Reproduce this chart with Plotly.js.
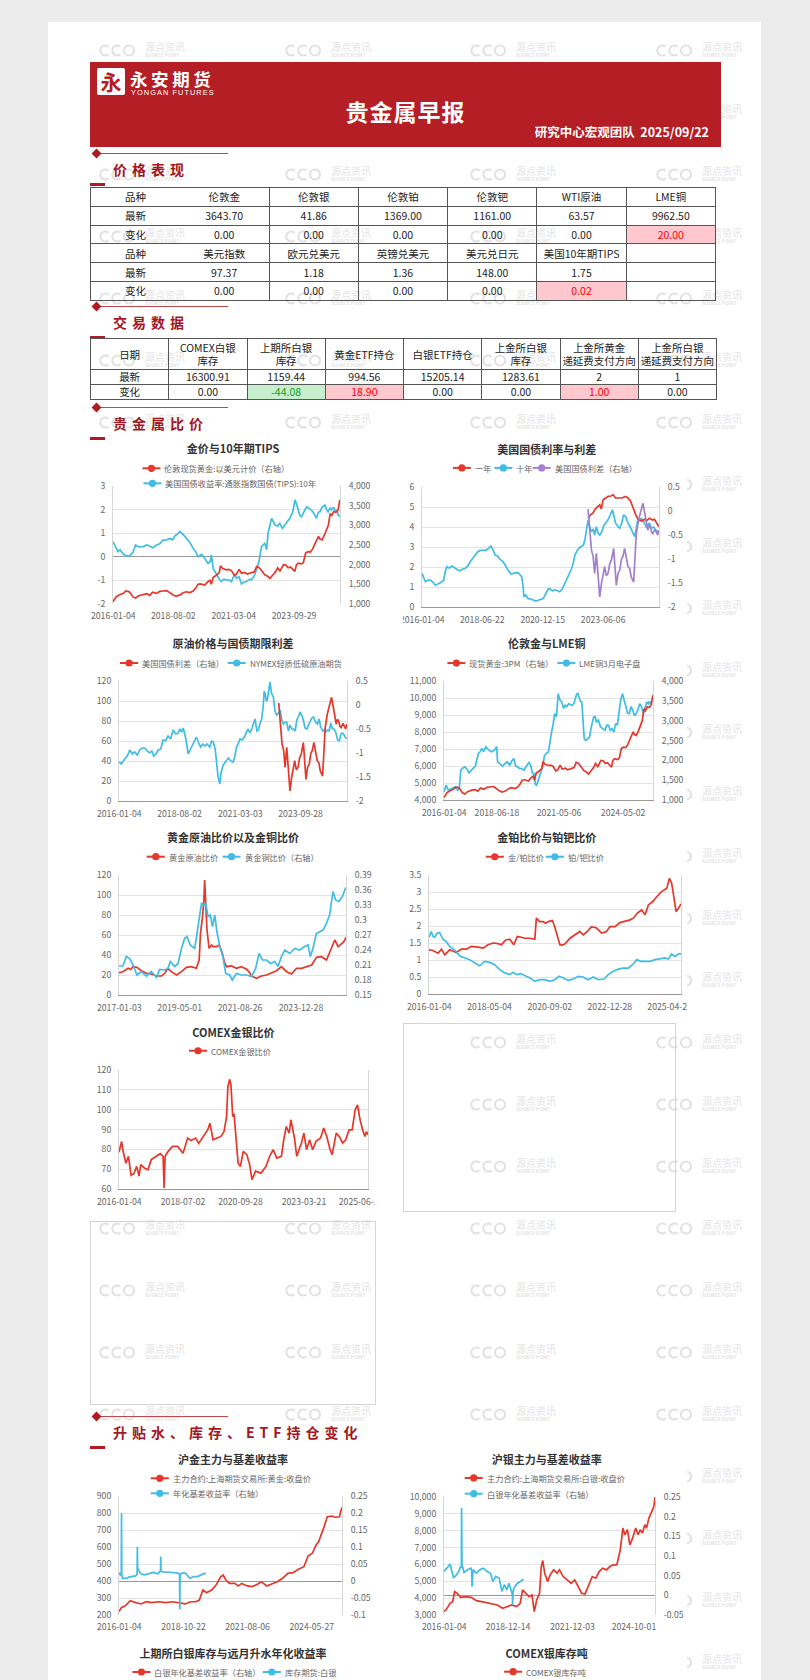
<!DOCTYPE html>
<html><head><meta charset="utf-8">
<script src="https://cdn.plot.ly/plotly-3.0.1.min.js"></script>
<style>
html,body{margin:0;padding:0;width:810px;height:1680px;overflow:hidden;background:#ececec;}
body{position:relative;font-family:"Noto Sans CJK SC","Noto Sans",sans-serif;}
#panel{position:absolute;left:48px;top:22px;width:713px;height:1700px;background:#fff;}
.wm{position:absolute;width:100px;height:16px;}
.wm svg{position:absolute;left:0;top:0;}
.wm .cn{position:absolute;left:47px;top:-3px;font-size:10px;line-height:12px;color:#e4e4e4;white-space:nowrap;}
.wm .en{position:absolute;left:47px;top:8px;font-size:4.6px;line-height:6px;color:#e4e4e4;white-space:nowrap;font-weight:bold;}
#hdr{position:absolute;left:90px;top:62px;width:631px;height:85px;background:#b41e24;color:#fff;}
#logo{position:absolute;left:7px;top:6px;width:28px;height:27px;background:#fff;border-radius:2px;color:#b41e24;font-size:21px;font-weight:bold;line-height:27px;text-align:center;}
#lname{position:absolute;left:40px;top:7px;font-size:17.5px;font-weight:bold;letter-spacing:3.6px;line-height:20px;white-space:nowrap;}
#lname2{position:absolute;left:41px;top:27px;font-size:7.4px;letter-spacing:1.05px;line-height:8px;white-space:nowrap;font-family:"Liberation Sans",Arial,sans-serif;}
#htitle{position:absolute;left:0;width:631px;top:36px;text-align:center;font-size:23px;font-weight:bold;letter-spacing:1px;line-height:26px;}
#hdate{position:absolute;right:12px;top:63px;font-size:12.5px;font-weight:bold;line-height:14px;white-space:nowrap;}
.dia{position:absolute;width:7px;height:7px;background:#b01b22;transform:rotate(45deg);}
.sline{position:absolute;height:1px;background:#c2454a;}
.stext{position:absolute;font-size:14px;font-weight:bold;color:#a3161e;letter-spacing:5px;line-height:16px;white-space:nowrap;}
.sdash{position:absolute;width:15px;height:3px;background:#b01b22;}
table{border-collapse:collapse;position:absolute;table-layout:fixed;font-size:10.5px;color:#222;}
td{border:1px solid #555;text-align:center;padding:0;line-height:13px;}
td.up{background:#ffc7ce;color:#ff0000;}
td.dn{background:#c6efce;color:#11a02a;}
#t1 td.c0{border-right:none;} #t1 td.c1{border-left:none;}
.chart{position:absolute;background:#fff;overflow:hidden;}
.ebox{position:absolute;border:1px solid #d4d4d4;box-sizing:border-box;}
</style></head>
<body>
<div id="panel"></div>
<div id="wm"></div>
<div id="hdr">
  <div id="logo">永</div>
  <div id="lname">永安期货</div>
  <div id="lname2">YONGAN FUTURES</div>
  <div id="htitle">贵金属早报</div>
  <div id="hdate">研究中心宏观团队&nbsp;&nbsp;2025/09/22</div>
</div>
<div id="secs"></div>
<table id="t1" style="left:90px;top:187px;width:626px;"></table>
<table id="t2" style="left:90px;top:338px;width:627px;"></table>
<div class="chart" id="c1"></div><div class="chart" id="c2"></div>
<div class="chart" id="c3"></div><div class="chart" id="c4"></div>
<div class="chart" id="c5"></div><div class="chart" id="c6"></div>
<div class="chart" id="c7"></div>
<div class="ebox" style="left:403px;top:1023px;width:273px;height:189px;"></div>
<div class="ebox" style="left:90px;top:1221px;width:286px;height:184px;"></div>
<div class="chart" id="c11"></div><div class="chart" id="c12"></div>
<div class="chart" id="c13"></div><div class="chart" id="c14"></div>
<script>
// ---------------- table data ----------------
const priceNames1 = ['伦敦金','伦敦银','伦敦铂','伦敦钯','WTI原油','LME铜'];
const priceLatest1 = ['3643.70','41.86','1369.00','1161.00','63.57','9962.50'];
const priceChange1 = ['0.00','0.00','0.00','0.00','0.00','20.00'];
const priceNames2 = ['美元指数','欧元兑美元','英镑兑美元','美元兑日元','美国10年期TIPS',''];
const priceLatest2 = ['97.37','1.18','1.36','148.00','1.75',''];
const priceChange2 = ['0.00','0.00','0.00','0.00','0.02',''];
const tradeNames = ['COMEX白银<br>库存','上期所白银<br>库存','黄金ETF持仓','白银ETF持仓','上金所白银<br>库存','上金所黄金<br>递延费支付方向','上金所白银<br>递延费支付方向'];
const tradeLatest = ['16300.91','1159.44','994.56','15205.14','1283.61','2','1'];
const tradeChange = ['0.00','-44.08','18.90','0.00','0.00','1.00','0.00'];

// ---------------- chart data: [decimal year, value] ----------------
const tipsData = [[2016.0,0.64],[2016.1,0.45],[2016.21,0.22],[2016.3,0.3],[2016.43,0.12],[2016.55,0.05],[2016.71,0.03],[2016.86,0.2],[2016.97,0.5],[2017.1,0.42],[2017.29,0.43],[2017.45,0.5],[2017.57,0.46],[2017.7,0.38],[2017.86,0.5],[2018.0,0.55],[2018.14,0.71],[2018.3,0.72],[2018.43,0.78],[2018.55,0.72],[2018.64,0.88],[2018.78,0.98],[2018.86,1.07],[2019.0,0.95],[2019.14,0.78],[2019.3,0.6],[2019.43,0.36],[2019.55,0.2],[2019.64,0.0],[2019.8,0.1],[2019.93,-0.07],[2020.07,-0.28],[2020.17,-0.2],[2020.21,0.08],[2020.29,-0.49],[2020.43,-0.77],[2020.55,-0.95],[2020.64,-1.05],[2020.75,-0.95],[2020.86,-0.98],[2021.0,-1.0],[2021.07,-1.05],[2021.2,-0.75],[2021.29,-0.91],[2021.4,-0.85],[2021.5,-1.15],[2021.6,-1.08],[2021.71,-1.05],[2021.85,-0.95],[2021.93,-0.98],[2022.05,-0.8],[2022.14,-0.56],[2022.25,-0.2],[2022.36,0.43],[2022.5,0.57],[2022.58,0.3],[2022.64,1.0],[2022.79,1.63],[2022.93,1.35],[2023.05,1.3],[2023.14,1.42],[2023.25,1.2],[2023.36,1.35],[2023.5,1.5],[2023.57,1.63],[2023.7,1.9],[2023.79,2.41],[2023.87,2.2],[2023.93,1.98],[2024.0,1.75],[2024.07,1.7],[2024.2,1.95],[2024.29,2.12],[2024.4,2.05],[2024.5,1.98],[2024.6,1.85],[2024.71,1.63],[2024.8,1.9],[2024.86,1.91],[2024.95,2.1],[2025.07,2.19],[2025.15,2.0],[2025.21,1.91],[2025.3,2.08],[2025.36,1.98],[2025.45,2.1],[2025.5,1.98],[2025.6,1.95],[2025.64,1.77],[2025.71,1.72]];
const goldData = [[2016.0,1060],[2016.07,1120],[2016.14,1186],[2016.3,1240],[2016.45,1270],[2016.55,1330],[2016.7,1310],[2016.86,1180],[2016.97,1150],[2017.1,1210],[2017.3,1250],[2017.45,1260],[2017.57,1220],[2017.7,1300],[2017.86,1270],[2018.0,1320],[2018.14,1330],[2018.3,1340],[2018.43,1290],[2018.57,1230],[2018.7,1200],[2018.86,1225],[2019.0,1285],[2019.14,1310],[2019.3,1290],[2019.43,1330],[2019.55,1410],[2019.64,1500],[2019.75,1510],[2019.93,1480],[2020.05,1560],[2020.15,1600],[2020.21,1500],[2020.29,1680],[2020.43,1730],[2020.55,1800],[2020.6,1970],[2020.7,1900],[2020.86,1870],[2020.95,1880],[2021.07,1850],[2021.2,1730],[2021.29,1760],[2021.4,1880],[2021.5,1780],[2021.65,1800],[2021.75,1760],[2021.93,1800],[2022.05,1820],[2022.15,1950],[2022.25,1930],[2022.36,1850],[2022.5,1740],[2022.64,1700],[2022.72,1650],[2022.86,1750],[2022.95,1810],[2023.05,1920],[2023.15,1840],[2023.3,2000],[2023.4,1990],[2023.5,1920],[2023.6,1940],[2023.72,1870],[2023.79,1830],[2023.85,1990],[2023.93,2040],[2024.07,2020],[2024.15,2050],[2024.25,2300],[2024.35,2330],[2024.45,2320],[2024.55,2400],[2024.7,2600],[2024.8,2720],[2024.86,2650],[2024.95,2630],[2025.07,2780],[2025.15,2900],[2025.22,3000],[2025.3,3300],[2025.37,3250],[2025.45,3350],[2025.55,3330],[2025.64,3400],[2025.68,3550],[2025.71,3644]];
const ust10Data = [[2016.0,1.68],[2016.07,1.45],[2016.14,1.26],[2016.25,1.35],[2016.34,1.34],[2016.45,1.25],[2016.54,1.09],[2016.65,1.15],[2016.75,1.21],[2016.89,1.34],[2016.95,1.75],[2017.02,2.01],[2017.12,1.95],[2017.23,2.05],[2017.36,1.93],[2017.47,1.85],[2017.57,1.81],[2017.67,1.9],[2017.77,1.93],[2017.88,2.05],[2017.98,2.27],[2018.08,2.45],[2018.18,2.6],[2018.28,2.75],[2018.38,2.82],[2018.48,2.85],[2018.59,2.82],[2018.7,2.9],[2018.82,3.05],[2018.9,2.9],[2019.0,2.6],[2019.1,2.55],[2019.2,2.38],[2019.3,2.3],[2019.41,2.1],[2019.54,1.81],[2019.65,1.65],[2019.75,1.68],[2019.85,1.72],[2019.95,1.71],[2020.09,1.51],[2020.15,1.0],[2020.18,0.51],[2020.25,0.6],[2020.36,0.42],[2020.46,0.4],[2020.56,0.34],[2020.67,0.3],[2020.77,0.34],[2020.87,0.38],[2020.97,0.42],[2021.05,0.6],[2021.11,0.76],[2021.18,0.9],[2021.25,0.92],[2021.35,0.8],[2021.45,0.87],[2021.55,0.8],[2021.65,0.76],[2021.75,0.9],[2021.86,1.21],[2021.96,1.4],[2022.06,1.68],[2022.13,1.9],[2022.2,2.18],[2022.27,2.6],[2022.34,2.77],[2022.44,2.95],[2022.54,3.02],[2022.62,3.1],[2022.68,3.35],[2022.75,3.8],[2022.81,4.36],[2022.88,4.0],[2022.95,3.77],[2023.02,3.9],[2023.08,3.6],[2023.15,4.02],[2023.22,3.7],[2023.29,3.6],[2023.37,3.75],[2023.45,4.06],[2023.54,4.2],[2023.63,4.36],[2023.72,4.6],[2023.81,4.86],[2023.88,4.5],[2023.94,4.19],[2024.02,4.05],[2024.11,3.94],[2024.19,4.2],[2024.27,4.61],[2024.36,4.5],[2024.45,4.19],[2024.54,4.0],[2024.62,3.77],[2024.72,3.52],[2024.8,4.0],[2024.86,4.44],[2024.93,4.3],[2024.99,4.44],[2025.06,4.3],[2025.13,4.19],[2025.2,4.0],[2025.26,4.11],[2025.33,4.2],[2025.4,3.94],[2025.5,4.0],[2025.58,3.86],[2025.65,3.8],[2025.71,3.69]];
const ust1Data = [[2022.81,4.44],[2022.9,4.6],[2023.01,4.69],[2023.1,4.9],[2023.22,5.03],[2023.29,5.11],[2023.35,4.9],[2023.43,5.36],[2023.54,5.45],[2023.63,5.53],[2023.75,5.55],[2023.84,5.61],[2023.94,5.45],[2024.0,5.45],[2024.08,5.48],[2024.2,5.45],[2024.35,5.53],[2024.45,5.45],[2024.55,5.3],[2024.63,5.03],[2024.77,4.61],[2024.85,4.4],[2024.9,4.36],[2025.0,4.3],[2025.13,4.39],[2025.2,4.3],[2025.33,4.44],[2025.45,4.35],[2025.53,4.39],[2025.63,4.19],[2025.71,4.02]];
const spreadData = [[2022.81,0.04],[2022.88,-0.47],[2022.95,-0.81],[2023.02,-0.95],[2023.08,-1.3],[2023.15,-0.88],[2023.22,-1.44],[2023.29,-1.79],[2023.36,-1.51],[2023.42,-1.3],[2023.49,-1.16],[2023.56,-1.35],[2023.63,-1.3],[2023.7,-1.1],[2023.77,-1.02],[2023.86,-0.78],[2023.92,-1.2],[2023.97,-1.55],[2024.04,-1.3],[2024.11,-1.23],[2024.18,-1.0],[2024.24,-0.95],[2024.31,-0.78],[2024.38,-1.0],[2024.45,-1.16],[2024.52,-1.2],[2024.58,-1.37],[2024.68,-1.48],[2024.73,-1.0],[2024.79,-0.47],[2024.88,-0.19],[2024.94,-0.05],[2024.99,0.02],[2025.06,0.16],[2025.12,0.0],[2025.17,-0.12],[2025.26,-0.4],[2025.31,-0.3],[2025.36,-0.33],[2025.42,-0.45],[2025.47,-0.47],[2025.55,-0.38],[2025.6,-0.43],[2025.66,-0.5],[2025.71,-0.4]];
const wtiData = [[2016.0,39],[2016.1,37],[2016.24,42],[2016.35,45],[2016.46,51],[2016.57,47],[2016.67,49],[2016.78,46],[2016.88,51],[2016.98,53],[2017.1,53],[2017.2,50],[2017.31,48],[2017.4,50],[2017.48,45],[2017.58,47],[2017.67,51],[2017.78,52],[2017.88,61],[2017.98,60],[2018.09,65],[2018.2,62],[2018.31,71],[2018.42,67],[2018.52,68],[2018.6,72],[2018.67,69],[2018.74,73],[2018.85,62],[2018.95,47],[2019.05,52],[2019.13,56],[2019.22,60],[2019.3,64],[2019.4,58],[2019.48,54],[2019.57,57],[2019.66,55],[2019.75,57],[2019.87,54],[2019.95,60],[2020.02,59],[2020.1,52],[2020.16,41],[2020.22,25],[2020.3,17],[2020.35,28],[2020.44,36],[2020.55,40],[2020.66,43],[2020.77,40],[2020.87,39],[2020.94,45],[2021.01,54],[2021.1,58],[2021.16,62],[2021.25,61],[2021.37,65],[2021.45,70],[2021.51,72],[2021.58,68],[2021.66,72],[2021.74,78],[2021.8,82],[2021.88,70],[2021.94,71],[2022.02,78],[2022.08,82],[2022.15,95],[2022.19,110],[2022.23,107],[2022.28,100],[2022.32,101],[2022.38,110],[2022.44,119],[2022.5,108],[2022.58,104],[2022.65,90],[2022.72,86],[2022.8,88],[2022.87,91],[2022.95,80],[2023.01,77],[2023.08,79],[2023.15,79],[2023.22,70],[2023.29,76],[2023.36,72],[2023.44,72],[2023.51,70],[2023.58,81],[2023.66,85],[2023.72,89],[2023.79,86],[2023.86,81],[2023.93,73],[2024.01,72],[2024.08,76],[2024.15,79],[2024.22,83],[2024.29,84],[2024.38,79],[2024.46,77],[2024.53,82],[2024.6,74],[2024.68,70],[2024.75,71],[2024.82,69],[2024.89,71],[2024.96,70],[2025.03,78],[2025.1,72],[2025.17,72],[2025.25,68],[2025.32,61],[2025.39,60],[2025.46,67],[2025.53,68],[2025.6,66],[2025.66,63],[2025.72,63]];
const copperData = [[2016.0,4483],[2016.1,4875],[2016.2,4580],[2016.37,4680],[2016.51,4777],[2016.64,4580],[2016.71,4700],[2016.78,5755],[2016.85,5853],[2016.98,5950],[2017.08,5800],[2017.16,5600],[2017.33,5795],[2017.46,6000],[2017.53,6400],[2017.6,6735],[2017.68,6833],[2017.76,7030],[2017.85,6850],[2017.94,7127],[2018.08,6930],[2018.21,6833],[2018.35,6930],[2018.45,7150],[2018.49,6245],[2018.6,6100],[2018.73,5990],[2018.85,6150],[2018.93,6245],[2019.06,6050],[2019.15,6300],[2019.25,6440],[2019.33,6000],[2019.42,5950],[2019.52,5850],[2019.62,5853],[2019.72,5750],[2019.86,6050],[2019.95,6200],[2020.02,6050],[2020.12,5560],[2020.19,5560],[2020.25,4900],[2020.31,4875],[2020.43,5364],[2020.52,5800],[2020.59,5950],[2020.67,6600],[2020.75,6735],[2020.86,6833],[2020.92,7400],[2020.99,7908],[2021.08,8500],[2021.15,9082],[2021.23,8900],[2021.31,10256],[2021.38,9900],[2021.48,9767],[2021.56,9400],[2021.64,9571],[2021.72,9500],[2021.8,9669],[2021.88,9600],[2021.96,9571],[2022.05,9700],[2022.15,10159],[2022.22,10300],[2022.28,10061],[2022.35,9800],[2022.41,9767],[2022.47,8800],[2022.52,7614],[2022.6,7500],[2022.69,7614],[2022.77,7700],[2022.85,8299],[2022.96,8886],[2023.03,8900],[2023.09,8593],[2023.18,8700],[2023.28,8299],[2023.38,8200],[2023.49,8104],[2023.57,8400],[2023.65,8397],[2023.73,8100],[2023.81,8201],[2023.9,8000],[2023.98,8495],[2024.06,8400],[2024.14,9278],[2024.22,9900],[2024.3,10256],[2024.38,9900],[2024.46,9474],[2024.54,9100],[2024.62,9082],[2024.7,9500],[2024.78,9278],[2024.86,8950],[2024.94,9082],[2025.02,9300],[2025.1,9669],[2025.18,9500],[2025.27,9082],[2025.35,9500],[2025.43,9767],[2025.5,9650],[2025.54,9767],[2025.6,9700],[2025.67,9865]];
const goldOilData = [[2017.0,22.3],[2017.15,23.3],[2017.25,25],[2017.35,26.7],[2017.45,25.5],[2017.54,28.3],[2017.69,27.7],[2017.86,24.3],[2018.05,21.7],[2018.24,21],[2018.44,19],[2018.63,19],[2018.76,21.7],[2018.88,26.7],[2019.01,23.3],[2019.21,20],[2019.4,23.3],[2019.59,27.7],[2019.78,28.3],[2019.97,26.7],[2020.08,35],[2020.13,61.7],[2020.21,78.3],[2020.26,95],[2020.29,115],[2020.33,91.7],[2020.38,65],[2020.46,46.7],[2020.55,50],[2020.62,48.3],[2020.74,48.3],[2020.85,50],[2020.97,41.7],[2021.05,33],[2021.13,28.3],[2021.32,29],[2021.51,26.7],[2021.7,28.3],[2021.9,25.7],[2022.0,23],[2022.09,19],[2022.28,16.7],[2022.47,19],[2022.67,20],[2022.86,22.3],[2023.05,24.3],[2023.24,28.3],[2023.44,23.3],[2023.63,21],[2023.82,26.7],[2024.01,26.7],[2024.21,28.3],[2024.4,30],[2024.59,37.7],[2024.78,38.3],[2024.97,35],[2025.12,45],[2025.29,55],[2025.42,48.3],[2025.55,51.7],[2025.64,53.3],[2025.72,57.7]];
const goldCopperData = [[2017.0,0.208],[2017.15,0.208],[2017.28,0.227],[2017.41,0.223],[2017.54,0.21],[2017.69,0.19],[2017.86,0.197],[2018.05,0.188],[2018.24,0.197],[2018.44,0.185],[2018.56,0.201],[2018.76,0.2],[2018.88,0.203],[2018.97,0.217],[2019.14,0.207],[2019.27,0.213],[2019.4,0.243],[2019.52,0.263],[2019.61,0.267],[2019.74,0.25],[2019.91,0.243],[2020.0,0.273],[2020.08,0.307],[2020.17,0.333],[2020.26,0.33],[2020.33,0.333],[2020.42,0.307],[2020.51,0.31],[2020.59,0.287],[2020.68,0.31],[2020.76,0.277],[2020.87,0.247],[2020.99,0.227],[2021.1,0.193],[2021.25,0.19],[2021.35,0.18],[2021.51,0.193],[2021.7,0.19],[2021.9,0.19],[2022.09,0.187],[2022.25,0.203],[2022.38,0.233],[2022.51,0.22],[2022.67,0.22],[2022.82,0.213],[2022.98,0.217],[2023.11,0.207],[2023.24,0.227],[2023.37,0.24],[2023.56,0.233],[2023.75,0.243],[2023.94,0.24],[2024.13,0.247],[2024.26,0.25],[2024.35,0.227],[2024.45,0.243],[2024.58,0.273],[2024.71,0.277],[2024.84,0.28],[2024.97,0.293],[2025.09,0.31],[2025.22,0.357],[2025.32,0.34],[2025.45,0.337],[2025.58,0.347],[2025.71,0.365]];
const goldPtData = [[2016.0,1.3],[2016.15,1.28],[2016.35,1.2],[2016.48,1.32],[2016.61,1.15],[2016.8,1.3],[2017.06,1.22],[2017.25,1.32],[2017.45,1.32],[2017.64,1.4],[2017.9,1.38],[2018.09,1.35],[2018.28,1.45],[2018.48,1.5],[2018.67,1.48],[2018.8,1.45],[2018.97,1.59],[2019.12,1.61],[2019.28,1.45],[2019.41,1.69],[2019.57,1.67],[2019.7,1.64],[2019.9,1.64],[2020.09,1.61],[2020.15,2.23],[2020.28,2.13],[2020.41,2.13],[2020.5,2.08],[2020.61,2.13],[2020.77,2.16],[2020.85,2.0],[2020.93,1.79],[2021.06,1.45],[2021.15,1.44],[2021.25,1.47],[2021.45,1.64],[2021.64,1.74],[2021.83,1.84],[2021.96,1.74],[2022.12,1.84],[2022.28,1.98],[2022.48,1.94],[2022.67,1.79],[2022.86,1.84],[2022.99,1.98],[2023.19,1.98],[2023.38,2.1],[2023.57,2.13],[2023.77,2.18],[2023.9,2.23],[2024.05,2.38],[2024.22,2.47],[2024.35,2.33],[2024.48,2.62],[2024.65,2.72],[2024.8,2.86],[2024.99,3.01],[2025.19,3.11],[2025.29,3.4],[2025.38,3.26],[2025.47,2.77],[2025.55,2.42],[2025.64,2.52],[2025.74,2.65]];
const ptPdData = [[2016.0,1.67],[2016.09,1.84],[2016.15,1.7],[2016.22,1.67],[2016.3,1.78],[2016.41,1.81],[2016.54,1.61],[2016.67,1.54],[2016.8,1.4],[2016.99,1.3],[2017.19,1.12],[2017.38,1.06],[2017.57,1.01],[2017.77,0.91],[2017.96,0.83],[2018.15,0.96],[2018.35,0.93],[2018.54,0.86],[2018.74,0.71],[2018.93,0.62],[2019.12,0.57],[2019.25,0.64],[2019.38,0.57],[2019.54,0.6],[2019.7,0.54],[2019.9,0.47],[2020.09,0.37],[2020.28,0.42],[2020.48,0.42],[2020.67,0.37],[2020.86,0.42],[2021.03,0.52],[2021.19,0.47],[2021.38,0.4],[2021.57,0.44],[2021.77,0.52],[2021.96,0.5],[2022.15,0.42],[2022.35,0.5],[2022.54,0.42],[2022.76,0.44],[2022.93,0.57],[2023.12,0.67],[2023.32,0.73],[2023.51,0.76],[2023.7,0.76],[2023.87,0.86],[2024.03,1.01],[2024.18,0.96],[2024.35,0.96],[2024.54,0.96],[2024.74,1.01],[2024.93,1.03],[2025.12,1.06],[2025.25,1.03],[2025.38,1.18],[2025.51,1.1],[2025.64,1.18],[2025.74,1.18]];
const auAgData = [[2016.0,78.5],[2016.1,84],[2016.16,79],[2016.27,73],[2016.37,76.5],[2016.47,67],[2016.58,67.7],[2016.69,71.4],[2016.78,66.5],[2016.85,72.3],[2016.99,70.6],[2017.13,69.7],[2017.26,74.8],[2017.47,76.5],[2017.61,77.8],[2017.72,76.5],[2017.76,60.5],[2017.8,76.5],[2017.92,79],[2018.09,81.5],[2018.29,81.5],[2018.5,78],[2018.68,85.7],[2018.81,84.5],[2018.99,85.7],[2019.11,83],[2019.3,86.5],[2019.46,89.8],[2019.55,93.2],[2019.67,84.8],[2019.83,85.7],[2019.98,86.5],[2020.1,89],[2020.2,96.5],[2020.25,111.6],[2020.32,115.3],[2020.37,112.5],[2020.44,96.5],[2020.49,98],[2020.57,83.2],[2020.65,73],[2020.74,71.4],[2020.85,79],[2020.99,77.3],[2021.1,72.3],[2021.19,64.7],[2021.33,69],[2021.54,68],[2021.74,71.4],[2021.88,76.5],[2022.02,79.8],[2022.16,75.6],[2022.34,76.5],[2022.43,84.8],[2022.53,91.5],[2022.64,88.2],[2022.71,94.9],[2022.85,85.7],[2022.94,76.5],[2023.12,83.2],[2023.22,88.2],[2023.32,79.8],[2023.44,84.8],[2023.56,79.8],[2023.69,84],[2023.87,85.7],[2023.99,90.7],[2024.11,86.5],[2024.24,79.8],[2024.32,77.3],[2024.48,88.2],[2024.6,86.5],[2024.73,83.2],[2024.85,84.8],[2024.98,89.8],[2025.1,89.8],[2025.22,99.9],[2025.31,102.4],[2025.41,94.9],[2025.51,89.8],[2025.6,86.5],[2025.66,89],[2025.72,87.3]];
const shGoldData = [[2016.0,220],[2016.11,245],[2016.26,253],[2016.49,284],[2016.73,273],[2016.96,265],[2017.19,278],[2017.42,273],[2017.73,278],[2018.04,273],[2018.35,278],[2018.65,269],[2018.89,265],[2019.12,278],[2019.35,278],[2019.5,288],[2019.66,347],[2019.81,331],[2020.04,347],[2020.23,376],[2020.43,425],[2020.54,435],[2020.66,406],[2020.81,386],[2021.05,386],[2021.2,371],[2021.35,386],[2021.59,371],[2021.82,367],[2022.05,382],[2022.2,396],[2022.44,371],[2022.67,382],[2022.9,396],[2023.13,416],[2023.36,445],[2023.59,449],[2023.82,469],[2024.06,484],[2024.24,547],[2024.43,563],[2024.59,612],[2024.7,631],[2024.8,665],[2024.94,720],[2025.08,778],[2025.18,782],[2025.29,782],[2025.4,775],[2025.51,775],[2025.61,778],[2025.66,808],[2025.72,833]];
const shGoldBasisData = [[2016.0,0.025],[2016.06,0.018],[2016.1,0.02],[2016.11,0.199],[2016.12,0.02],[2016.15,0.008],[2016.34,0.008],[2016.45,0.012],[2016.57,0.013],[2016.73,0.015],[2016.79,0.02],[2016.8,0.101],[2016.81,0.04],[2016.85,0.032],[2016.96,0.021],[2017.11,0.018],[2017.27,0.021],[2017.5,0.025],[2017.7,0.021],[2017.81,0.03],[2017.82,0.072],[2017.83,0.03],[2017.88,0.027],[2018.11,0.027],[2018.35,0.025],[2018.58,0.023],[2018.64,0.02],[2018.65,-0.083],[2018.66,0.015],[2018.72,0.023],[2018.89,0.023],[2019.0,0.015],[2019.09,0.008],[2019.27,0.013],[2019.43,0.013],[2019.58,0.018],[2019.73,0.023],[2019.78,0.02]];
const shSilverData = [[2016.0,3198],[2016.11,3337],[2016.28,3694],[2016.4,3793],[2016.49,4388],[2016.6,4290],[2016.76,4051],[2017.0,4091],[2017.25,4050],[2017.49,3853],[2017.73,3793],[2017.97,3734],[2018.22,3655],[2018.46,3595],[2018.7,3397],[2018.95,3496],[2019.11,3595],[2019.35,3496],[2019.51,3694],[2019.62,4487],[2019.75,4329],[2019.92,4091],[2020.05,4190],[2020.16,3198],[2020.27,3893],[2020.4,4290],[2020.48,5875],[2020.55,6232],[2020.64,5479],[2020.77,4983],[2020.89,5380],[2021.05,5677],[2021.21,5479],[2021.32,5677],[2021.49,5281],[2021.7,5083],[2021.86,4884],[2022.02,5083],[2022.18,4646],[2022.34,4290],[2022.5,4250],[2022.67,4785],[2022.83,5281],[2022.99,5182],[2023.15,5578],[2023.31,5776],[2023.48,5677],[2023.64,5875],[2023.8,5975],[2023.96,5975],[2024.12,6867],[2024.24,8156],[2024.33,7759],[2024.45,8057],[2024.56,7164],[2024.69,7561],[2024.83,8156],[2024.94,7759],[2025.04,8057],[2025.14,7858],[2025.25,8354],[2025.33,8156],[2025.44,8751],[2025.54,9048],[2025.62,9346],[2025.67,9445],[2025.72,10000]];
const shSilverBasisData = [[2016.0,0.061],[2016.11,0.067],[2016.19,0.073],[2016.28,0.08],[2016.36,0.065],[2016.44,0.044],[2016.57,0.052],[2016.68,0.061],[2016.76,0.073],[2016.8,0.07],[2016.81,0.222],[2016.83,0.07],[2016.86,0.073],[2016.92,0.058],[2017.08,0.065],[2017.25,0.069],[2017.28,0.06],[2017.29,0.022],[2017.31,0.06],[2017.34,0.065],[2017.49,0.056],[2017.65,0.065],[2017.81,0.069],[2017.97,0.061],[2018.14,0.056],[2018.25,0.035],[2018.38,0.048],[2018.54,0.044],[2018.67,0.01],[2018.78,0.027],[2018.9,0.014],[2018.99,0.031],[2019.11,0.01],[2019.15,0.0],[2019.16,-0.024],[2019.18,0.01],[2019.22,0.018],[2019.35,0.029],[2019.51,0.035],[2019.67,0.041]];

// ---------------- style constants ----------------
const RED='#e5372a', BLUE='#3ebde6', PURPLE='#a47fcc';
const FONT='"Noto Sans CJK SC","Noto Sans",sans-serif';

// ---------------- watermarks ----------------
(function(){
  const layer=document.getElementById('wm');
  const cols=[98,284,469,655];
  let h='';
  for(let k=0;k<27;k++){
    const y=50+62*k;
    cols.forEach(x=>{
      h+=`<div class="wm" style="left:${x}px;top:${y-6}px"><svg width="40" height="13" viewBox="0 0 40 13"><g fill="none" stroke="#e2e2e2" stroke-width="2.2"><path d="M10.5,2.6 A5,5 0 1 0 10.5,10.4"/><path d="M22.5,2.6 A5,5 0 1 0 22.5,10.4"/><circle cx="31" cy="6.5" r="5"/></g></svg><div class="cn">源点资讯</div><div class="en">SOURCE POINT</div></div>`;
    });
  }
  layer.innerHTML=h;
})();

// ---------------- section headers ----------------
(function(){
  const secs=[[153,'价格表现'],[306,'交易数据'],[407,'贵金属比价'],[1416,'升贴水、库存、ETF持仓变化']];
  let h='';
  secs.forEach(([y,t])=>{
    h+=`<div class="sline" style="left:96px;top:${y}px;width:132px"></div>`;
    h+=`<div class="dia" style="left:92.5px;top:${y-3}px"></div>`;
    h+=`<div class="stext" style="left:113px;top:${y+8}px">${t}</div>`;
    h+=`<div class="sdash" style="left:90px;top:${y+30}px"></div>`;
  });
  document.getElementById('secs').innerHTML=h;
})();

// ---------------- tables ----------------
(function(){
  const cls=(v)=>{ if(v==='')return ''; const n=parseFloat(v); return n>0?'up':(n<0?'dn':''); };
  const rows=[['品种',...priceNames1],['最新',...priceLatest1],['变化',...priceChange1],['品种',...priceNames2],['最新',...priceLatest2],['变化',...priceChange2]];
  let h='';
  rows.forEach((r,i)=>{
    h+='<tr style="height:18.8px">';
    r.forEach((v,j)=>{ const c=(i%3===2&&j>0)?cls(v):''; h+=`<td class="c${j} ${c}">${v}</td>`; });
    h+='</tr>';
  });
  document.getElementById('t1').innerHTML=h;
  let g='<tr style="height:31px"><td>日期</td>'+tradeNames.map(v=>`<td>${v}</td>`).join('')+'</tr>';
  g+='<tr style="height:14.8px"><td>最新</td>'+tradeLatest.map(v=>`<td>${v}</td>`).join('')+'</tr>';
  g+='<tr style="height:14.8px"><td>变化</td>'+tradeChange.map(v=>`<td class="${cls(v)}">${v}</td>`).join('')+'</tr>';
  document.getElementById('t2').innerHTML=g;
})();

// ---------------- chart builder ----------------
function steps(a,b,s){const r=[];for(let v=a;v<=b+1e-9;v+=s)r.push(+v.toFixed(4));return r;}
function fmt(v,comma){ if(comma) return v.toLocaleString('en-US'); return String(+v.toFixed(3)); }
function drawChart(c){
  const el=document.getElementById(c.id);
  const [bx,by,bw,bh]=c.box, [x0,y0,x1,y1]=c.plot;
  Object.assign(el.style,{left:bx+'px',top:by+'px',width:bw+'px',height:bh+'px'});
  const px=X=>(X-x0)/(x1-x0), py=Y=>(y1-Y)/(y1-y0);
  const shapes=[], ann=[];
  (c.leg||[]).forEach(L=>{
    shapes.push({type:'line',xref:'paper',yref:'paper',x0:px(L.x-9),x1:px(L.x+9),y0:py(L.y),y1:py(L.y),line:{color:L.color,width:2}});
    shapes.push({type:'circle',xref:'paper',yref:'paper',x0:px(L.x-3.6),x1:px(L.x+3.6),y0:py(L.y+3.6),y1:py(L.y-3.6),fillcolor:L.color,line:{color:L.color,width:0}});
    ann.push({xref:'paper',yref:'paper',x:px(L.x+11),y:py(L.y),xanchor:'left',yanchor:'middle',text:L.name,showarrow:false,font:{size:8.2,color:'#666',family:FONT}});
  });
  const data=(c.series||[]).map(s=>({x:s.data.map(p=>p[0]),y:s.data.map(p=>p[1]),type:'scatter',mode:'lines',line:{color:s.color,width:1.7},yaxis:s.axis||'y',hoverinfo:'skip',showlegend:false}));
  if(!data.length) data.push({x:[],y:[],type:'scatter',mode:'lines',showlegend:false});
  const tf={size:8.7,color:'#666',family:FONT};
  const yt=steps(c.y.range[0],c.y.range[1],c.y.step);
  const layout={width:bw,height:bh,margin:{l:x0-bx,r:bx+bw-x1,t:y0-by,b:by+bh-y1,pad:0},
    paper_bgcolor:'#fff',plot_bgcolor:'#fff',showlegend:false,font:{family:FONT},
    title:{text:'<b>'+c.title.text+'</b>',font:{size:11,color:'#333',family:FONT},x:(c.title.x-bx)/bw,xref:'container',xanchor:'center',y:1-(c.title.y-by)/bh,yref:'container',yanchor:'middle'},
    xaxis:{type:'linear',range:c.x.range,tickvals:c.x.tickvals,ticktext:c.x.ticktext,showgrid:false,zeroline:false,showline:!c.x.noline,linecolor:'#9a9a9a',linewidth:1,ticks:'',tickfont:tf,ticklabelstandoff:5,ticklabeloverflow:'allow',fixedrange:true},
    yaxis:{range:c.y.range,tickvals:yt,ticktext:yt.map(v=>fmt(v,c.y.comma)),showgrid:true,gridcolor:'#e3e3e3',gridwidth:1,zeroline:!!c.y.zero,zerolinecolor:'#9a9a9a',zerolinewidth:1,showline:true,linecolor:'#d6d6d6',mirror:!c.y2,ticks:'',tickfont:tf,ticklabelstandoff:5,ticklabeloverflow:'allow',fixedrange:true},
    shapes, annotations:ann};
  if(c.y2){
    const y2t=steps(c.y2.range[0],c.y2.range[1],c.y2.step);
    layout.yaxis2={overlaying:'y',side:'right',range:c.y2.range,tickvals:y2t,ticktext:y2t.map(v=>fmt(v,c.y2.comma)),showgrid:false,zeroline:!!c.y2.zero,zerolinecolor:'#9a9a9a',zerolinewidth:1,showline:true,linecolor:'#d6d6d6',ticks:'',tickfont:tf,ticklabelstandoff:6,ticklabeloverflow:'allow',fixedrange:true};
  }
  Plotly.newPlot(el,data,layout,{staticPlot:true,displayModeBar:false});
}

const LX=90, LW=285, RX=403, RW=284;
// 1
drawChart({id:'c1',box:[LX,440,LW,190],plot:[113.3,486,340,604],
  title:{text:'金价与10年期TIPS',x:233,y:449},
  leg:[{name:'伦敦现货黄金:以美元计价（右轴）',color:RED,x:151.7,y:468.3},{name:'美国国债收益率:通胀指数国债(TIPS):10年',color:BLUE,x:152.7,y:483.3}],
  x:{range:[2016.0,2025.72],tickvals:[2016.01,2018.58,2021.17,2023.75],ticktext:['2016-01-04','2018-08-02','2021-03-04','2023-09-29'],noline:true},
  y:{range:[-2,3],step:1,zero:true},y2:{range:[1000,4000],step:500,comma:true},
  series:[{data:tipsData,color:BLUE},{data:goldData,color:RED,axis:'y2'}]});
// 2
drawChart({id:'c2',box:[RX,440,RW,190],plot:[421.7,487.3,659.3,606.7],
  title:{text:'美国国债利率与利差',x:546.7,y:450},
  leg:[{name:'一年',color:RED,x:461.7,y:468.3},{name:'十年',color:BLUE,x:503.3,y:468.3},{name:'美国国债利差（右轴）',color:PURPLE,x:541.7,y:468.3}],
  x:{range:[2016.0,2025.72],tickvals:[2016.01,2018.47,2020.95,2023.43],ticktext:['2016-01-04','2018-06-22','2020-12-15','2023-06-06']},
  y:{range:[0,6],step:1},y2:{range:[-2,0.5],step:0.5},
  series:[{data:ust10Data,color:BLUE},{data:ust1Data,color:RED},{data:spreadData,color:PURPLE,axis:'y2'}]});
// 3
drawChart({id:'c3',box:[LX,630,LW,196],plot:[119.3,680.7,346.7,800.7],
  title:{text:'原油价格与国债期限利差',x:233,y:644},
  leg:[{name:'美国国债利差（右轴）',color:RED,x:129.3,y:662.7},{name:'NYMEX轻质低硫原油期货',color:BLUE,x:236.7,y:662.7}],
  x:{range:[2016.0,2025.72],tickvals:[2016.01,2018.58,2021.17,2023.74],ticktext:['2016-01-04','2018-08-02','2021-03-03','2023-09-28']},
  y:{range:[0,120],step:20},y2:{range:[-2,0.5],step:0.5},
  series:[{data:wtiData,color:BLUE},{data:spreadData,color:RED,axis:'y2'}]});
// 4
drawChart({id:'c4',box:[RX,630,RW,196],plot:[444.3,680.7,653.3,800],
  title:{text:'伦敦金与LME铜',x:546.7,y:644},
  leg:[{name:'现货黄金:3PM（右轴）',color:RED,x:456.7,y:662.7},{name:'LME铜3月电子盘',color:BLUE,x:566.7,y:662.7}],
  x:{range:[2016.0,2025.72],tickvals:[2016.01,2018.46,2021.35,2024.33],ticktext:['2016-01-04','2018-06-18','2021-05-06','2024-05-02']},
  y:{range:[4000,11000],step:1000,comma:true},y2:{range:[1000,4000],step:500,comma:true},
  series:[{data:copperData,color:BLUE},{data:goldData,color:RED,axis:'y2'}]});
// 5
drawChart({id:'c5',box:[LX,826,LW,190],plot:[119.3,875,346,995],
  title:{text:'黄金原油比价以及金铜比价',x:233,y:838.3},
  leg:[{name:'黄金原油比价',color:RED,x:156,y:856.7},{name:'黄金铜比价（右轴）',color:BLUE,x:231.7,y:856.7}],
  x:{range:[2017.0,2025.72],tickvals:[2017.01,2019.33,2021.65,2023.99],ticktext:['2017-01-03','2019-05-01','2021-08-26','2023-12-28']},
  y:{range:[0,120],step:20},y2:{range:[0.15,0.39],step:0.03},
  series:[{data:goldOilData,color:RED},{data:goldCopperData,color:BLUE,axis:'y2'}]});
// 6
drawChart({id:'c6',box:[RX,826,RW,190],plot:[429.3,875,681,994.3],
  title:{text:'金铂比价与铂钯比价',x:546.7,y:838.3},
  leg:[{name:'金/铂比价',color:RED,x:495,y:856.7},{name:'铂/钯比价',color:BLUE,x:555,y:856.7}],
  x:{range:[2016.0,2025.74],tickvals:[2016.01,2018.34,2020.67,2022.99,2025.30],ticktext:['2016-01-04','2018-05-04','2020-09-02','2022-12-28','2025-04-21']},
  y:{range:[0,3.5],step:0.5},
  series:[{data:goldPtData,color:RED},{data:ptPdData,color:BLUE}]});
// 7
drawChart({id:'c7',box:[LX,1016,LW,196],plot:[119.3,1070,368.3,1189.3],
  title:{text:'COMEX金银比价',x:233.3,y:1032.7},
  leg:[{name:'COMEX金银比价',color:RED,x:198.3,y:1050.7}],
  x:{range:[2016.0,2025.72],tickvals:[2016.01,2018.5,2020.74,2023.22,2025.45],ticktext:['2016-01-04','2018-07-02','2020-09-28','2023-03-21','2025-06-13']},
  y:{range:[60,120],step:10},
  series:[{data:auAgData,color:RED}]});
// 11
drawChart({id:'c11',box:[LX,1450,LW,188],plot:[119.3,1496,341.7,1615],
  title:{text:'沪金主力与基差收益率',x:233,y:1460},
  leg:[{name:'主力合约:上海期货交易所:黄金:收盘价',color:RED,x:160,y:1478.3},{name:'年化基差收益率（右轴）',color:BLUE,x:160,y:1493.3}],
  x:{range:[2016.0,2025.72],tickvals:[2016.01,2018.81,2021.6,2024.4],ticktext:['2016-01-04','2018-10-22','2021-08-06','2024-05-27'],noline:true},
  y:{range:[200,900],step:100},y2:{range:[-0.1,0.25],step:0.05,zero:true},
  series:[{data:shGoldData,color:RED},{data:shGoldBasisData,color:BLUE,axis:'y2'}]});
// 12
drawChart({id:'c12',box:[RX,1450,RW,188],plot:[444.3,1497.3,655,1615],
  title:{text:'沪银主力与基差收益率',x:546.7,y:1460},
  leg:[{name:'主力合约:上海期货交易所:白银:收盘价',color:RED,x:474,y:1478.3},{name:'白银年化基差收益率（右轴）',color:BLUE,x:474,y:1494}],
  x:{range:[2016.0,2025.72],tickvals:[2016.01,2018.95,2021.92,2024.75],ticktext:['2016-01-04','2018-12-14','2021-12-03','2024-10-01'],noline:true},
  y:{range:[3000,10000],step:1000,comma:true},y2:{range:[-0.05,0.25],step:0.05,zero:true},
  series:[{data:shSilverData,color:RED},{data:shSilverBasisData,color:BLUE,axis:'y2'}]});
// 13, 14 (cut off by the page bottom)
drawChart({id:'c13',box:[LX,1640,LW,200],plot:[119.3,1700,341.7,1815],
  title:{text:'上期所白银库存与远月升水年化收益率',x:233,y:1654},
  leg:[{name:'白银年化基差收益率（右轴）',color:RED,x:141.7,y:1672},{name:'库存期货:白银',color:BLUE,x:271.7,y:1672}],
  x:{range:[2016.0,2025.72],tickvals:[],ticktext:[]},y:{range:[0,1],step:1},series:[]});
drawChart({id:'c14',box:[RX,1640,RW,200],plot:[444.3,1700,655,1815],
  title:{text:'COMEX银库存吨',x:546.7,y:1654},
  leg:[{name:'COMEX银库存吨',color:RED,x:513.3,y:1671.7}],
  x:{range:[2016.0,2025.72],tickvals:[],ticktext:[]},y:{range:[0,1],step:1},series:[]});
</script>
</body></html>
